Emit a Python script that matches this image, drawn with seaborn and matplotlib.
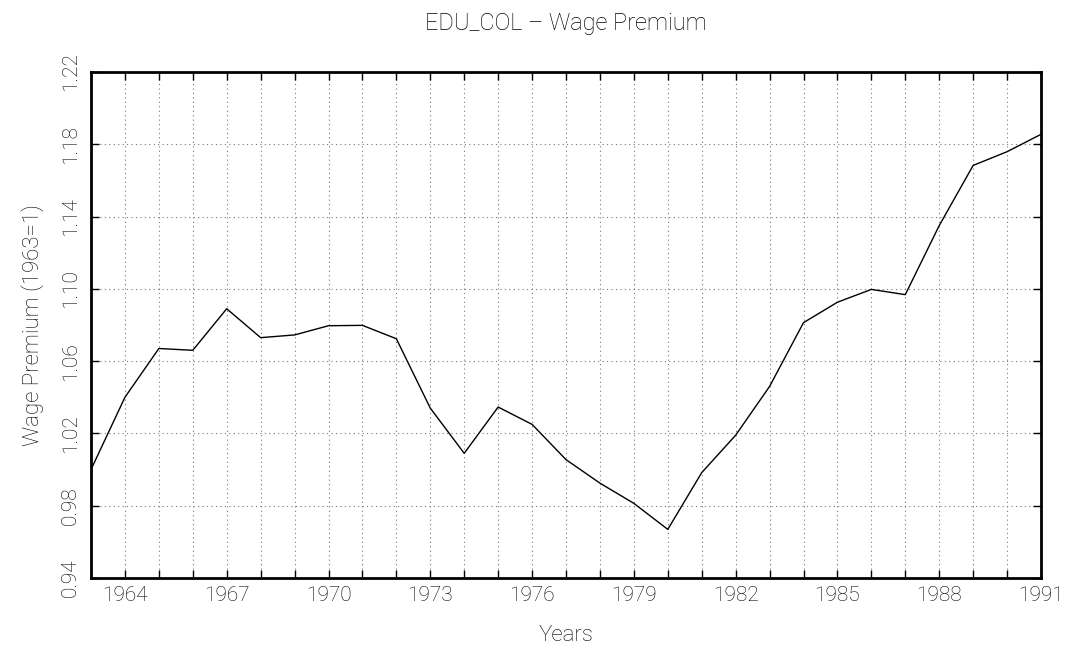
import matplotlib
matplotlib.use("Agg")
import matplotlib.pyplot as plt
import seaborn as sns
import pandas as pd
import numpy as np

years = list(range(1963, 1992))
premium = [1.000, 1.040, 1.067, 1.066, 1.089, 1.073, 1.0745, 1.0796, 1.0798, 1.0724,
           1.034, 1.009, 1.0346, 1.025, 1.0055, 0.9925, 0.9813, 0.9669, 0.9983, 1.019,
           1.046, 1.0813, 1.0926, 1.0997, 1.0968, 1.135, 1.1683, 1.1759, 1.1855]
x_labels = [1964, 1967, 1970, 1973, 1976, 1979, 1982, 1985, 1988, 1991]
y_ticks = [0.94, 0.98, 1.02, 1.06, 1.10, 1.14, 1.18, 1.22]

title = "EDU_COL \u2013 Wage Premium"
xlabel = "Years"
ylabel = "Wage Premium (1963=1)"

sns.set_style("ticks")
plt.rcParams['font.family'] = ['Roboto', 'DejaVu Sans']
plt.rcParams['font.weight'] = 'light'
plt.rcParams['text.color'] = 'black'
plt.rcParams['axes.labelcolor'] = 'black'
plt.rcParams['xtick.color'] = 'black'
plt.rcParams['ytick.color'] = 'black'

df = pd.DataFrame({"year": years, "premium": premium})

fig = plt.figure(figsize=(10.73, 6.49), dpi=100)
ax = fig.add_axes([91/1073, 1 - 578/649, (1041 - 91)/1073, (578 - 72)/649])

sns.lineplot(data=df, x="year", y="premium", ax=ax, color="black", linewidth=1.0)

ax.set_xlim(1963, 1991)
ax.set_ylim(0.94, 1.22)
ax.set_xticks(years)
ax.set_xticklabels([str(y) if y in x_labels else "" for y in years])
ax.set_yticks(y_ticks)
ax.set_yticklabels([f"{v:.2f}" for v in y_ticks], rotation=90, va="center")

ax.grid(True, linestyle=(0, (1, 3)), color="#777777", linewidth=0.8)
ax.tick_params(direction="in", length=6, width=1, top=True, right=True,
               labelsize=15, colors="black", labelcolor="black", pad=6)
ax.tick_params(axis="y", pad=8)
for s in ax.spines.values():
    s.set_linewidth(2)
    s.set_color("black")

ax.set_title(title, fontsize=17, pad=30, fontweight="light", color="black")
ax.set_xlabel(xlabel, fontsize=16, labelpad=14, fontweight="light", color="black")
ax.set_ylabel(ylabel, fontsize=16, labelpad=12, fontweight="light", color="black")

fig.savefig("out.png", dpi=100)
